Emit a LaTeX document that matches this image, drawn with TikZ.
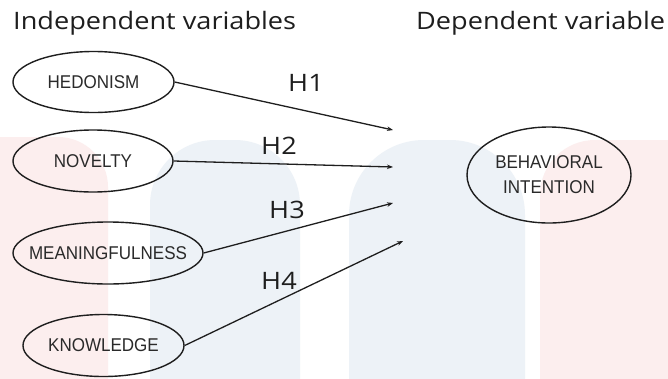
\documentclass[tikz,border=0pt]{standalone}
\usepackage{fontspec}
\setmainfont{Open Sans}
\newfontfamily\headfont[FakeStretch=1.13]{Open Sans}
\newfontfamily\boxfont[FakeStretch=0.92]{Liberation Sans}
\usetikzlibrary{arrows.meta,shapes.geometric}
\definecolor{wmpink}{HTML}{FCEEEE}
\definecolor{wmblue}{HTML}{EDF2F7}
\definecolor{inkdark}{HTML}{1E1E1E}
\definecolor{boxtext}{HTML}{2A2A2A}
\tikzset{
  varnode/.style={ellipse, draw=inkdark, line width=1.4pt, inner xsep=-25pt, inner ysep=0pt,
    font=\boxfont\fontsize{18.5}{25}\selectfont, text=boxtext, align=center},
  heading/.style={font=\headfont\fontsize{24}{28}\selectfont, text=inkdark, inner sep=0pt},
  hlabel/.style={font=\headfont\fontsize{24}{28}\selectfont, text=inkdark, inner sep=0pt, anchor=base},
  link/.style={draw=inkdark, line width=1.3pt, -{Stealth[length=6pt,width=4.5pt]}}
}
\begin{document}
\begin{tikzpicture}[x=1pt,y=-1pt]
\useasboundingbox (0,0) rectangle (668,378);
\begin{scope}
\clip (0,0) rectangle (668,378);
\fill[white] (0,0) rectangle (668,378);
\fill[wmpink, rounded corners=50] (-60,137) rectangle (108,460);
\fill[wmblue, rounded corners=65] (150,140) rectangle (300,460);
\fill[wmblue, rounded corners=75] (349,140) rectangle (525,460);
\fill[wmpink, rounded corners=55] (540,140) rectangle (730,460);
\end{scope}

\node[heading, anchor=base west] (tl) at (13,29) {Independent variables};
\node[heading, anchor=base west] (tr) at (416,29) {Dependent variable};

\node[varnode, minimum width=161pt, minimum height=61pt] (hed) at (93.5,82) {HEDONISM};
\node[varnode, minimum width=160pt, minimum height=62pt] (nov) at (93,161) {NOVELTY};
\node[varnode, minimum width=190pt, minimum height=62pt] (mea) at (108,253) {MEANINGFULNESS};
\node[varnode, minimum width=161pt, minimum height=62pt] (kno) at (103.5,345.5) {KNOWLEDGE};
\node[varnode, minimum width=164pt, minimum height=96pt] (bi) at (549,175) {BEHAVIORAL\\INTENTION};

\coordinate (e1) at (393,130);
\coordinate (e2) at (393,167);
\coordinate (e3) at (393,203);
\coordinate (e4) at (403,241);

\draw[link] (hed.east) -- (e1);
\draw[link] (nov.east) -- (e2);
\draw[link] (mea.east) -- (e3);
\draw[link] (kno.east) -- (e4);

\node[hlabel] (h1) at (306,91) {H1};
\node[hlabel] (h2) at (279,154) {H2};
\node[hlabel] (h3) at (287,218) {H3};
\node[hlabel] (h4) at (279,289) {H4};
\end{tikzpicture}
\end{document}
